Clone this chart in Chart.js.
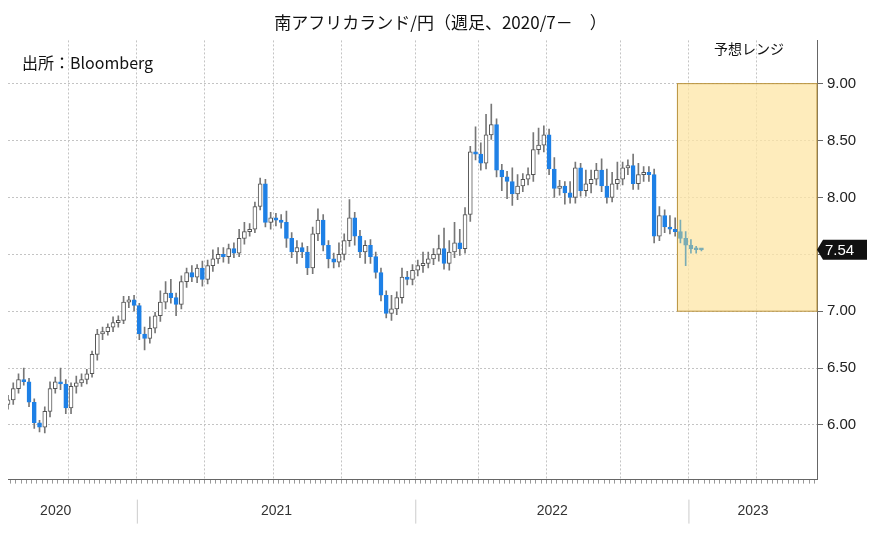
<!DOCTYPE html>
<html>
<head>
<meta charset="utf-8">
<script src="https://cdn.jsdelivr.net/npm/chart.js@4/dist/chart.umd.min.js"></script>
<style>
  html, body { margin: 0; padding: 0; background: #fff; }
  #wrap { width: 875px; height: 556px; position: relative; }
</style>
</head>
<body>
<div id="wrap"><canvas id="zar-chart"></canvas></div>
<script>
// weekly closes, ZAR/JPY, from second week of Jul 2020
const closes = [
  6.22, 6.32, 6.40, 6.38, 6.20, 6.02, 5.98, 6.12, 6.32, 6.38,
  6.36, 6.15, 6.34, 6.37, 6.40, 6.45, 6.62, 6.80, 6.82, 6.86,
  6.90, 6.92, 7.08, 7.10, 7.05, 6.80, 6.76, 6.85, 6.96, 7.08,
  7.16, 7.12, 7.06, 7.26, 7.34, 7.30, 7.38, 7.28, 7.40, 7.46,
  7.50, 7.48, 7.55, 7.51, 7.64, 7.70, 7.72, 7.92, 8.12, 7.78,
  7.82, 7.80, 7.78, 7.64, 7.52, 7.56, 7.52, 7.38, 7.68, 7.80,
  7.58, 7.46, 7.43, 7.50, 7.62, 7.82, 7.66, 7.52, 7.58, 7.48,
  7.34, 7.14, 6.98, 7.02, 7.12, 7.30, 7.28, 7.36, 7.40, 7.42,
  7.46, 7.50, 7.55, 7.42, 7.52, 7.60, 7.55, 7.85, 8.40, 8.38,
  8.30, 8.55, 8.64, 8.24, 8.18, 8.14, 8.03, 8.10, 8.16, 8.20,
  8.42, 8.46, 8.55, 8.25, 8.08, 8.10, 8.04, 8.00, 8.26, 8.06,
  8.12, 8.16, 8.24, 8.10, 8.00, 8.12, 8.16, 8.26, 8.28, 8.12,
  8.20, 8.22, 8.20, 7.66, 7.84, 7.74,
  7.72, 7.70, 7.64, 7.58, 7.55, 7.54, 7.54
]
const firstOpen = 6.18
// wick lengths above body top / below body bottom
const wickUp = [
  0.04, 0.05, 0.05, 0.10, 0.03, 0.03, 0.02, 0.04, 0.06, 0.04,
  0.12, 0.04, 0.03, 0.06, 0.05, 0.04, 0.03, 0.04, 0.04, 0.03,
  0.05, 0.04, 0.05, 0.03, 0.04, 0.02, 0.06, 0.10, 0.03, 0.10,
  0.10, 0.12, 0.04, 0.05, 0.04, 0.06, 0.03, 0.06, 0.05, 0.08,
  0.06, 0.06, 0.04, 0.05, 0.08, 0.08, 0.05, 0.04, 0.05, 0.04,
  0.05, 0.04, 0.05, 0.10, 0.05, 0.06, 0.04, 0.05, 0.06, 0.10,
  0.05, 0.04, 0.05, 0.10, 0.06, 0.16, 0.05, 0.05, 0.04, 0.05,
  0.04, 0.04, 0.04, 0.12, 0.05, 0.08, 0.05, 0.05, 0.05, 0.10,
  0.06, 0.05, 0.12, 0.18, 0.10, 0.18, 0.12, 0.06, 0.05, 0.22,
  0.10, 0.18, 0.18, 0.05, 0.05, 0.05, 0.12, 0.10, 0.05, 0.06,
  0.15, 0.15, 0.08, 0.05, 0.10, 0.05, 0.04, 0.10, 0.05, 0.04,
  0.12, 0.08, 0.06, 0.10, 0.15, 0.10, 0.15, 0.05, 0.05, 0.10,
  0.10, 0.05, 0.05, 0.05, 0.08, 0.05,
  0.10, 0.10, 0.10, 0.06, 0.05, 0.02, 0.01
]
const wickDown = [
  0.04, 0.04, 0.04, 0.03, 0.04, 0.05, 0.04, 0.05, 0.05, 0.04,
  0.05, 0.05, 0.05, 0.06, 0.03, 0.04, 0.03, 0.05, 0.05, 0.03,
  0.04, 0.04, 0.03, 0.05, 0.05, 0.05, 0.10, 0.04, 0.04, 0.05,
  0.06, 0.05, 0.10, 0.04, 0.05, 0.04, 0.05, 0.06, 0.04, 0.05,
  0.04, 0.05, 0.06, 0.04, 0.03, 0.05, 0.04, 0.03, 0.03, 0.04,
  0.06, 0.05, 0.05, 0.08, 0.05, 0.10, 0.05, 0.06, 0.05, 0.06,
  0.05, 0.08, 0.05, 0.04, 0.05, 0.05, 0.08, 0.05, 0.10, 0.06,
  0.05, 0.05, 0.04, 0.06, 0.05, 0.05, 0.05, 0.05, 0.05, 0.06,
  0.04, 0.05, 0.06, 0.05, 0.06, 0.05, 0.06, 0.04, 0.06, 0.05,
  0.06, 0.05, 0.04, 0.06, 0.12, 0.15, 0.10, 0.05, 0.05, 0.05,
  0.06, 0.04, 0.06, 0.05, 0.08, 0.06, 0.10, 0.05, 0.05, 0.05,
  0.05, 0.08, 0.05, 0.05, 0.05, 0.04, 0.05, 0.05, 0.06, 0.05,
  0.05, 0.06, 0.06, 0.06, 0.04, 0.05,
  0.04, 0.04, 0.04, 0.18, 0.04, 0.03, 0.01
]
const startDate = new Date(2020, 6, 10)
const totalWeeks = 155
const rangeStart = new Date(2022, 11, 23)   // 予想レンジ starts
const rangeLow = 7.00
const rangeHigh = 9.00
const lastValue = 7.54
const yTicks = [6.0, 6.5, 7.0, 7.5, 8.0, 8.5, 9.0]
const years = ['2020', '2021', '2022', '2023']

const weekDates = []
for (let i = 0; i < totalWeeks; i++) {
  const d = new Date(startDate)
  d.setDate(d.getDate() + i * 7)
  weekDates.push(d)
}
const labels = weekDates.map(d => d.getFullYear() + '/' + (d.getMonth() + 1) + '/' + d.getDate())
const rangeIndex = weekDates.findIndex(d => d >= rangeStart)

const opens = closes.map((c, i) => i === 0 ? firstOpen : closes[i - 1])
const bodies = closes.map((c, i) => [opens[i], c])
const wicks = closes.map((c, i) => [Math.min(opens[i], c) - wickDown[i], Math.max(opens[i], c) + wickUp[i]])

const isLate = i => i >= rangeIndex
const bodyFill = ctx => {
  const i = ctx.dataIndex
  if (isLate(i)) return '#7aacb4'
  return closes[i] >= opens[i] ? '#ffffff' : '#1e80e6'
}
const bodyBorder = ctx => {
  const i = ctx.dataIndex
  if (isLate(i)) return '#7aacb4'
  return closes[i] >= opens[i] ? '#555555' : '#1e80e6'
}

const overlay = {
  id: 'overlay',
  beforeDatasetsDraw(chart) {
    const { ctx, scales: { x, y } } = chart
    const x0 = x.getPixelForValue(rangeIndex) - 3
    const x1 = chart.chartArea.right
    const yTop = y.getPixelForValue(rangeHigh)
    const yBot = y.getPixelForValue(rangeLow)
    ctx.save()
    ctx.fillStyle = 'rgba(253, 229, 165, 0.75)'
    ctx.fillRect(x0, yTop, x1 - x0, yBot - yTop)
    ctx.strokeStyle = '#b8913a'
    ctx.lineWidth = 1
    ctx.strokeRect(x0, yTop, x1 - x0, yBot - yTop)
    ctx.restore()
  },
  afterDraw(chart) {
    const { ctx, scales: { x, y }, chartArea } = chart
    ctx.save()
    // year separators and labels
    const bounds = [chartArea.left]
    weekDates.forEach((d, i) => {
      if (i > 0 && d.getFullYear() !== weekDates[i - 1].getFullYear()) bounds.push(x.getPixelForValue(i) - 2)
    })
    bounds.push(chartArea.right)
    ctx.strokeStyle = '#cccccc'
    ctx.lineWidth = 1
    for (let b = 1; b < bounds.length - 1; b++) {
      ctx.beginPath()
      ctx.moveTo(bounds[b], chartArea.bottom + 20)
      ctx.lineTo(bounds[b], chartArea.bottom + 44)
      ctx.stroke()
    }
    ctx.fillStyle = '#333'
    ctx.font = '14px "Liberation Sans Narrow", "Liberation Sans", sans-serif'
    ctx.textAlign = 'center'
    ctx.textBaseline = 'middle'
    years.forEach((yr, k) => {
      ctx.fillText(yr, (bounds[k] + bounds[k + 1]) / 2 - (k === 0 ? 17 : 0), chartArea.bottom + 32)
    })
    // last value tag
    const py = y.getPixelForValue(lastValue)
    const px = chartArea.right + 4
    ctx.fillStyle = '#111'
    ctx.beginPath()
    ctx.moveTo(px - 4, py)
    ctx.lineTo(px + 2, py - 10)
    ctx.lineTo(px + 46, py - 10)
    ctx.lineTo(px + 46, py + 10)
    ctx.lineTo(px + 2, py + 10)
    ctx.closePath()
    ctx.fill()
    ctx.fillStyle = '#fff'
    ctx.font = '15px "Liberation Sans", Arial, sans-serif'
    ctx.textAlign = 'left'
    ctx.fillText(lastValue.toFixed(2), px + 4, py + 1)
    // texts
    ctx.fillStyle = '#111'
    ctx.font = '16px "Noto Sans CJK JP", sans-serif'
    ctx.fillText('出所：Bloomberg', 22, 63)
    ctx.font = '14px "Noto Sans CJK JP", sans-serif'
    ctx.fillText('予想レンジ', 714, 49)
    ctx.restore()
  }
}

new Chart(document.getElementById('zar-chart'), {
  type: 'bar',
  data: {
    labels: labels,
    datasets: [
      {
        label: 'body',
        data: bodies,
        backgroundColor: bodyFill,
        borderColor: bodyBorder,
        borderWidth: 1,
        borderSkipped: false,
        barThickness: 4,
        minBarLength: 2,
        grouped: false,
        order: 1
      },
      {
        label: 'wick',
        data: wicks,
        backgroundColor: ctx => isLate(ctx.dataIndex) ? '#7aacb4' : '#777777',
        barThickness: 1,
        grouped: false,
        order: 2
      }
    ]
  },
  plugins: [overlay],
  options: {
    responsive: true,
    maintainAspectRatio: false,
    animation: false,
    layout: { padding: { left: 8, right: 2, top: 0, bottom: 52 } },
    plugins: {
      legend: { display: false },
      tooltip: { enabled: false },
      title: {
        display: true,
        text: '南アフリカランド/円（週足、2020/7－　）',
        color: '#111',
        font: { family: '"Noto Sans CJK JP", sans-serif', size: 17, weight: 'normal' },
        padding: { top: 12, bottom: 8 }
      }
    },
    scales: {
      x: {
        offset: false,
        border: { color: '#666', dash: [2, 2] },
        grid: {
          color: ctx => {
            const d = weekDates[ctx.index]
            return d && d.getDate() <= 7 && d.getMonth() % 3 === 0 ? '#c4c4c4' : 'rgba(0,0,0,0)'
          },
          tickColor: '#999',
          tickLength: 4,
          drawTicks: true,
          lineWidth: 1
        },
        ticks: { autoSkip: false, display: true, callback: () => '', maxRotation: 0 }
      },
      y: {
        position: 'right',
        min: 5.52,
        max: 9.38,
        afterBuildTicks: axis => { axis.ticks = yTicks.map(v => ({ value: v })) },
        border: { color: '#666', dash: [2, 2] },
        grid: { color: '#c4c4c4', tickLength: 6, tickColor: '#666' },
        ticks: {
          color: '#222',
          padding: 4,
          font: { family: '"Liberation Sans", Arial, sans-serif', size: 15 },
          callback: v => v.toFixed(2)
        },
        afterFit: axis => { axis.width = 56 }
      }
    }
  }
})
</script>
</body>
</html>
